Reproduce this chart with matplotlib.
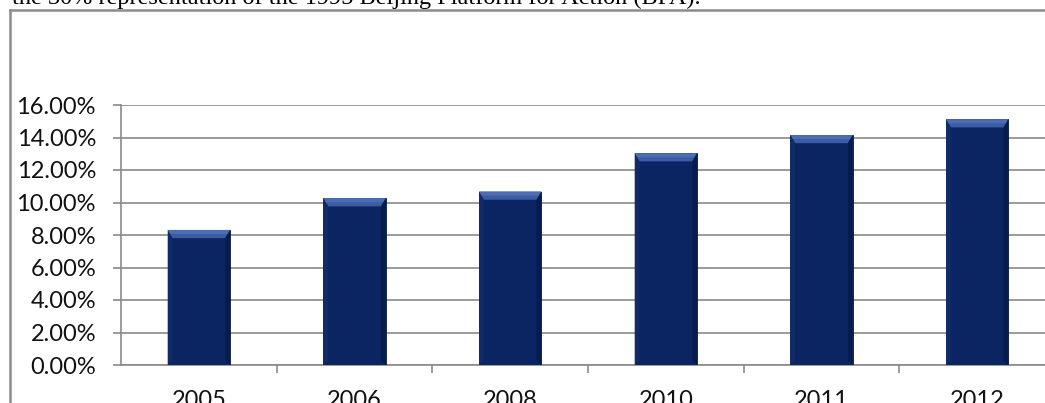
import matplotlib
matplotlib.use("Agg")
import matplotlib.pyplot as plt
from matplotlib.patches import Polygon
from matplotlib.ticker import FuncFormatter, FixedLocator
from matplotlib.lines import Line2D

# values (share of women, %)
years = ["2005", "2006", "2008", "2010", "2011", "2012"]
share = [8.31, 10.26, 10.67, 13.03, 14.15, 15.12]
yticks = [0, 2, 4, 6, 8, 10, 12, 14, 16]
caption = "the 30% representation of the 1995 Beijing Platform for Action (BPA)."

W, H = 1045, 403
fig = plt.figure(figsize=(W / 100, H / 100), dpi=100)
fig.patch.set_facecolor("white")

# plot area (extends a little past the right edge, like the cropped original)
left, bottom, top = 121, 365, 105
ax = fig.add_axes([left / W, 1 - bottom / H, 934 / W, (bottom - top) / H])
ax.set_xlim(-0.5, len(years) - 0.5)
ax.set_ylim(0, 16)

bars = ax.bar(range(len(years)), share, width=0.4, color="#0b2462",
              edgecolor="#07193f", linewidth=0.6, zorder=3)

# bevel on top of each bar
for b in bars:
    x0, w, h = b.get_x(), b.get_width(), b.get_height()
    dx, dy = 0.03, 0.5
    ax.add_patch(Polygon([(x0, h), (x0 + w, h), (x0 + w - dx, h - dy), (x0 + dx, h - dy)],
                         closed=True, facecolor="#3b5ba3", edgecolor="none", zorder=4))
    ax.add_patch(Polygon([(x0, h), (x0 + w, h), (x0 + w - dx / 2, h - dy / 2), (x0 + dx / 2, h - dy / 2)],
                         closed=True, facecolor="#4c6cb4", edgecolor="none", zorder=4))
    ax.add_patch(Polygon([(x0, h), (x0 + dx, h - dy), (x0 + dx, 0.25), (x0, 0)],
                         closed=True, facecolor="#112b68", edgecolor="none", zorder=4))
    ax.add_patch(Polygon([(x0 + w, h), (x0 + w - dx, h - dy), (x0 + w - dx, 0.25), (x0 + w, 0)],
                         closed=True, facecolor="#081c4c", edgecolor="none", zorder=4))

ax.yaxis.set_major_locator(FixedLocator(yticks))
ax.yaxis.set_major_formatter(FuncFormatter(lambda v, p: f"{v:.2f}%"))
ax.grid(axis="y", color="#8a8a8a", linewidth=1.2, zorder=0)
ax.set_axisbelow(True)

ax.set_xticks(range(len(years)))
ax.set_xticklabels(years)
ax.set_xticks([i + 0.5 for i in range(len(years) - 1)], minor=True)
ax.tick_params(axis="x", which="major", length=0, pad=18, labelsize=17)
ax.tick_params(axis="x", which="minor", length=6, width=1.2, color="#8a8a8a", direction="out")
ax.tick_params(axis="y", length=6, width=1.2, color="#8a8a8a", pad=12, labelsize=17)
for lab in ax.get_xticklabels() + ax.get_yticklabels():
    lab.set_family("Lato")
    lab.set_color("#111111")

for s in ["top", "right"]:
    ax.spines[s].set_visible(False)
for s in ["left", "bottom"]:
    ax.spines[s].set_color("#8a8a8a")
    ax.spines[s].set_linewidth(1.2)

# outer frame of the chart object
fig.add_artist(Line2D([10 / W, 10 / W], [0, 1 - 10 / H], color="#8c8c8c", linewidth=1.8))
fig.add_artist(Line2D([10 / W, 1], [1 - 10 / H, 1 - 10 / H], color="#8c8c8c", linewidth=1.8))

# caption from the surrounding page, cut off at the top
fig.text(12 / W, 1 - 4 / H, caption, family="Liberation Serif", fontsize=17.5,
         va="baseline", ha="left", color="black")

fig.savefig("out.png", dpi=100)
